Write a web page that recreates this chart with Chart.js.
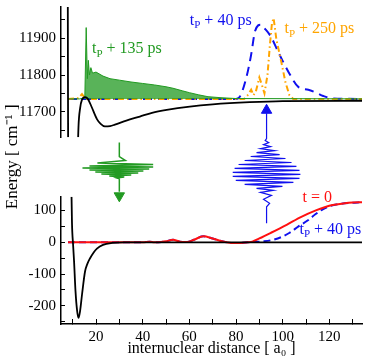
<!DOCTYPE html>
<html>
<head>
<meta charset="utf-8">
<script src="https://cdn.jsdelivr.net/npm/chart.js@4.4.1/dist/chart.umd.min.js"></script>
<style>
  html, body { margin: 0; padding: 0; background: #fff; }
  #wrap { position: relative; width: 374px; height: 360px; }
</style>
</head>
<body>
<div id="wrap"><canvas id="chart"></canvas></div>
<script>
// upper panel (excited state), energies in cm^-1
const upPotX = [7.9, 8.1, 10, 12.0, 12.5, 13.2, 14, 15.3, 16.5, 18, 20.4, 22, 23.8, 26, 28.1, 33, 38.8, 44, 50.3, 60.2, 70, 85.9, 100, 135];
const upPotY = [12050, 11500, 11300, 11550, 11660, 11710, 11733, 11740, 11735, 11715, 11680, 11667, 11660, 11661, 11665, 11676, 11687, 11697, 11705, 11714, 11720, 11726, 11729, 11730];

// t_P + 135 ps (envelope of the fast oscillation)
const upGreenX = [8, 13, 15.2, 15.8, 16.3, 16.7, 17.2, 17.8, 18.5, 20, 23, 26, 30, 35, 40, 45, 50, 53, 57, 60, 64, 68, 74, 80, 135];
const upGreenY = [11735, 11735, 11737, 11929, 11790, 11840, 11800, 11820, 11805, 11808, 11797, 11790, 11786, 11781, 11777, 11773, 11768, 11764, 11757, 11752, 11746, 11741, 11738, 11736, 11735];

// t_P + 250 ps
const upOrangeX = [8, 12.5, 14, 15.3, 16, 83.5, 85, 86.5, 87.5, 88.5, 90, 91, 92.2, 93.5, 94.5, 95.4, 96.1, 97.3, 99.5, 101.2, 102.9, 104.5, 135];
const upOrangeY = [11735, 11737, 11748, 11737, 11735, 11735, 11745, 11760, 11745, 11755, 11793, 11775, 11750, 11800, 11880, 11940, 11955, 11897, 11833, 11780, 11745, 11735, 11735];

// t_P + 40 ps
const upBlueX = [8, 80, 81.3, 84.3, 86.4, 88.1, 89.5, 90.6, 92.5, 94.9, 98.3, 102.6, 106.8, 111, 114, 117.4, 121.7, 135];
const upBlueY = [11735, 11735, 11738, 11790, 11852, 11918, 11935, 11937, 11925, 11905, 11860, 11807, 11767, 11760, 11753, 11743, 11736, 11735];

// lower panel (ground state)
const lowPotX = [9.4, 9.7, 10.2, 10.6, 11.2, 11.9, 12.5, 13.2, 14, 15.3, 16.3, 17.4, 19, 20.4, 23, 27, 32, 135];
const lowPotY = [200, 63, -10, -60, -152, -215, -238, -215, -165, -92, -68, -51, -32, -20, -8, -2, 0, 0];

const lowRedX = [8, 40, 43, 45, 48, 50, 53, 56, 59, 62, 66, 70, 74, 78, 82, 85, 87, 90, 95, 101.7, 108, 114.5, 118, 121.4, 126, 130, 134];
const lowRedY = [0, 0, 2, 0, 1, 3, 8, 2, 1, 8, 19, 12, 3, -2, -2, 0, 2, 12, 30, 55, 80, 101, 110, 117, 122, 125, 126];

const lowBlueX = [8, 40, 43, 45, 48, 50, 53, 56, 59, 62, 66, 70, 74, 78, 82, 85, 88, 92, 96, 100, 103, 106.8, 111, 114, 117, 120, 124, 129, 134];
const lowBlueY = [0, 0, 2, 0, 1, 3, 8, 2, 1, 8, 19, 12, 3, -2, -2, 0, 1, 3, 8, 18, 30, 50, 70, 88, 103, 113, 120, 124, 126];

// pulse sketches between the panels (arbitrary units)
const greenPulseX = [30.0, 30.0, 32.6, 20.6, 44.5, 17.2, 44.5, 14.2, 42.8, 17.2, 40.3, 19.7, 38.1, 22.3, 35.1, 25.7, 32.1, 28.7, 30.0, 30.0];
const greenPulseY = [24.5, 10.5, 6.5, 4, 2.5, 1, 0, -1, -2, -3, -4, -5, -6, -7, -8, -9, -10, -11, -12, -25];
const bluePulseX = [93.1, 93.1, 94.4, 91.8, 95.2, 90.5, 96.0, 88.8, 99.9, 83.7, 104.6, 79.9, 107.2, 78.6, 107.6, 78.6, 107.2, 79.4, 105.9, 81.1, 103.8, 83.7, 101.2, 86.3, 98.7, 88.8, 96.5, 90.5, 94.8, 91.8, 94.0, 92.5, 93.1, 93.1];
const bluePulseY = [-56.5, -40, -36.5, -32.5, -28.5, -25.5, -23.5, -21.5, -19.5, -17.5, -15.5, -13.5, -11.5, -9.5, -7.5, -5.5, -3.5, -1.5, 0.5, 2.5, 4.5, 6.5, 8.5, 10.5, 12.5, 14.5, 16.5, 18.5, 20.5, 22.5, 24.5, 26.5, 28.5, 54];
const greenArrow = [30.0, -29];
const blueArrow = [93.1, 57];

// tick labels
const xTickLabels = [20, 40, 60, 80, 100, 120];
const upTickLabels = [11700, 11800, 11900];
const lowTickLabels = [-200, -100, 0, 100];

const GREEN = '#229a22', ORANGE = '#ffa500', BLUE = '#1010ee', RED = '#ff1010';
const SERIF = '"Liberation Serif", "Times New Roman", serif';
const FONT = { family: SERIF, size: 15 };

const pts = (xs, ys) => xs.map((x, i) => ({ x: x, y: ys[i] }));

// ticks on every multiple of `step` inside the axis range
const everyStep = step => s => {
  const t = [];
  for (let v = Math.ceil(s.min / step) * step; v <= s.max; v += step) t.push({ value: v });
  s.ticks = t;
};

// keep each panel's curves inside its own strip
const panelClip = {
  id: 'panelClip',
  beforeDatasetDraw(chart, args) {
    const id = args.meta.yAxisID;
    if (id === 'yGap') return;
    const s = chart.scales[id], a = chart.chartArea, ctx = chart.ctx;
    ctx.save();
    ctx.beginPath();
    ctx.rect(a.left, s.top, a.right - a.left, s.bottom - s.top);
    ctx.clip();
  },
  afterDatasetDraw(chart, args) {
    if (args.meta.yAxisID !== 'yGap') chart.ctx.restore();
  }
};

// curve labels like "t_P + 40 ps"
const curveLabels = {
  id: 'curveLabels',
  afterDatasetsDraw(chart, args, opts) {
    const ctx = chart.ctx;
    ctx.save();
    ctx.textBaseline = 'middle';
    ctx.textAlign = 'left';
    opts.items.forEach(it => {
      let x = chart.scales.x.getPixelForValue(it.x);
      const y = chart.scales[it.axis].getPixelForValue(it.y);
      ctx.fillStyle = it.color;
      ctx.font = '16px ' + SERIF;
      ctx.fillText(it.lead, x, y);
      x += ctx.measureText(it.lead).width;
      if (it.sub) {
        ctx.font = '11px ' + SERIF;
        ctx.fillText(it.sub, x, y + 5);
        x += ctx.measureText(it.sub).width;
      }
      if (it.rest) {
        ctx.font = '16px ' + SERIF;
        ctx.fillText(it.rest, x, y);
      }
    });
    ctx.restore();
  }
};

const yCommon = (labels) => ({
  type: 'linear',
  position: 'left',
  stack: 'energy',
  afterBuildTicks: everyStep(50),
  afterFit: s => { s.width = 61; s.paddingTop = 0; s.paddingBottom = 0; },
  ticks: {
    autoSkip: false, padding: 9, color: '#000', font: FONT,
    callback: v => labels.includes(v) ? String(v) : ''
  },
  grid: { drawOnChartArea: false, tickLength: -4, color: '#000', lineWidth: 1 },
  border: { color: '#000', width: 1.5 }
});

new Chart(document.getElementById('chart'), {
  type: 'line',
  data: {
    datasets: [
      { data: pts(upPotX, upPotY), yAxisID: 'yUp', borderColor: '#000', borderWidth: 1.8, cubicInterpolationMode: 'monotone' },
      { data: pts(upGreenX, upGreenY), yAxisID: 'yUp', borderColor: GREEN, borderWidth: 1, backgroundColor: 'rgba(34,154,34,0.75)', fill: { value: 11735 }, tension: 0 },
      { data: pts(upOrangeX, upOrangeY), yAxisID: 'yUp', borderColor: ORANGE, borderWidth: 2, borderDash: [6, 3, 1.5, 3], tension: 0 },
      { data: pts(upBlueX, upBlueY), yAxisID: 'yUp', borderColor: BLUE, borderWidth: 2, borderDash: [9, 6], cubicInterpolationMode: 'monotone' },

      { data: pts(lowPotX, lowPotY), yAxisID: 'yLow', borderColor: '#000', borderWidth: 1.8, cubicInterpolationMode: 'monotone' },
      { data: pts(lowRedX, lowRedY), yAxisID: 'yLow', borderColor: RED, borderWidth: 2, cubicInterpolationMode: 'monotone' },
      { data: pts(lowBlueX, lowBlueY), yAxisID: 'yLow', borderColor: BLUE, borderWidth: 2, borderDash: [7, 4], cubicInterpolationMode: 'monotone' },

      // the pulse sketches reach into both panels, so no clipping
      { data: pts(greenPulseX, greenPulseY), yAxisID: 'yGap', clip: false, borderColor: GREEN, borderWidth: 1.5, tension: 0 },
      { data: [{ x: greenArrow[0], y: greenArrow[1] }], yAxisID: 'yGap', clip: false, showLine: false, pointRadius: 6, pointStyle: 'triangle', rotation: 180, backgroundColor: GREEN, borderColor: GREEN },
      { data: pts(bluePulseX, bluePulseY), yAxisID: 'yGap', clip: false, borderColor: BLUE, borderWidth: 1.2, tension: 0 },
      { data: [{ x: blueArrow[0], y: blueArrow[1] }], yAxisID: 'yGap', clip: false, showLine: false, pointRadius: 6, pointStyle: 'triangle', rotation: 0, backgroundColor: BLUE, borderColor: BLUE }
    ]
  },
  options: {
    responsive: true,
    maintainAspectRatio: false,
    animation: false,
    devicePixelRatio: 1,
    layout: { padding: { left: 0, right: 12, top: 0, bottom: 0 } },
    elements: { point: { radius: 0 } },
    plugins: {
      legend: { display: false },
      tooltip: { enabled: false },
      curveLabels: {
        items: [
          { axis: 'yUp', x: 18.3, y: 11870, lead: 't', sub: 'P', rest: ' + 135 ps', color: GREEN },
          { axis: 'yUp', x: 60.2, y: 11948, lead: 't', sub: 'P', rest: ' + 40 ps', color: BLUE },
          { axis: 'yUp', x: 100.8, y: 11926, lead: 't', sub: 'P', rest: ' + 250 ps', color: ORANGE },
          { axis: 'yLow', x: 108.5, y: 139, lead: 't = 0', color: RED },
          { axis: 'yLow', x: 107.2, y: 40, lead: 't', sub: 'P', rest: ' + 40 ps', color: BLUE }
        ]
      }
    },
    scales: {
      x: {
        type: 'linear',
        position: 'bottom',
        min: 5,
        max: 134,
        afterBuildTicks: everyStep(10),
        afterFit: s => { s.height = 36; s.paddingLeft = 0; s.paddingRight = 0; },
        ticks: {
          autoSkip: false, maxRotation: 0, padding: 9, color: '#000', font: FONT,
          callback: v => xTickLabels.includes(v) ? String(v) : ''
        },
        grid: { drawOnChartArea: false, tickLength: -5, color: '#000' },
        border: { color: '#000', width: 1.5 },
        title: { display: true, text: 'internuclear distance [ a\u2080 ]', color: '#000', font: { family: SERIF, size: 16 }, padding: { top: 0, bottom: 2 } }
      },
      // stacked strips are placed bottom-up in definition order
      yLow: Object.assign(yCommon(lowTickLabels), { min: -257, max: 143, stackWeight: 130 }),
      yGap: {
        type: 'linear',
        position: 'left',
        stack: 'energy',
        stackWeight: 61,
        min: -30,
        max: 30,
        afterFit: s => { s.width = 61; s.paddingTop = 0; s.paddingBottom = 0; },
        ticks: { display: false },
        grid: { display: false },
        border: { display: false },
        // leading spaces lift the title a little above the middle of the gap
        title: { display: true, text: '\u2002\u2002\u2009Energy [ cm\u207B\u00B9 ]', color: '#000', font: { family: SERIF, size: 17 }, padding: { top: 2, bottom: 0 } }
      },
      yUp: Object.assign(yCommon(upTickLabels), { min: 11631, max: 11985, stackWeight: 133 })
    }
  },
  plugins: [panelClip, curveLabels]
});
</script>
</body>
</html>
